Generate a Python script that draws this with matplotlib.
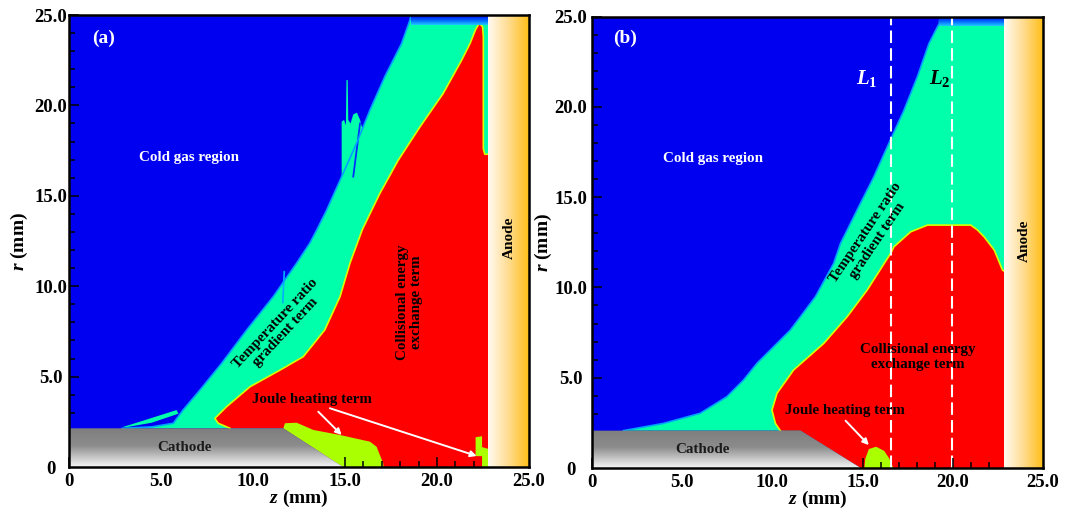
import numpy as np
import matplotlib.pyplot as plt
from matplotlib.patches import Polygon
from matplotlib.colors import LinearSegmentedColormap
from matplotlib.ticker import FixedLocator, MultipleLocator

plt.rcParams['font.family'] = ['Liberation Serif', 'DejaVu Serif']
plt.rcParams['font.weight'] = 'bold'
plt.rcParams['axes.labelweight'] = 'bold'
plt.rcParams['mathtext.fontset'] = 'custom'
plt.rcParams['mathtext.rm'] = 'Liberation Serif:bold'
plt.rcParams['mathtext.it'] = 'Liberation Serif:italic:bold'
plt.rcParams['mathtext.bf'] = 'Liberation Serif:bold'

# colores de las regiones
COLD = '#0000F0'
THERMAL = '#00FFAA'
COLLISION = '#FF0000'
JOULE = '#AAFF00'

tick_vals = [0, 5, 10, 15, 20, 25]
tick_text = ['0', '5.0', '10.0', '15.0', '20.0', '25.0']

# ------- panel (a) -------
a_cathode_z = [0, 0, 11.65, 14.9]
a_cathode_r = [0, 2.14, 2.14, 0]
a_anode_z = 22.8

# frontera region fria / termino de gradiente
a_thermal_z = [2.9, 4.5, 5.67, 6.2, 7.12, 8.3, 9.66, 11.1, 12.37, 13.1, 13.46,
               14.0, 14.82, 15.63, 16.36, 17.17, 18.08, 18.53, 18.6]
a_thermal_r = [2.14, 2.22, 2.42, 3.15, 4.26, 5.74, 7.58, 9.42, 11.27, 12.4, 13.1,
               14.2, 16.06, 17.9, 19.75, 21.6, 23.43, 24.72, 25.0]
a_sliver_z = [2.9, 4.3, 5.85, 5.95, 4.5, 3.1]
a_sliver_r = [2.2, 2.65, 3.15, 2.95, 2.45, 2.2]
a_spike_z = [14.82, 14.82, 14.95, 15.05, 15.08, 15.15, 15.18, 15.3, 15.45, 15.65,
             15.82, 15.95, 16.25, 15.63]
a_spike_r = [16.0, 19.1, 19.2, 18.9, 21.4, 21.4, 19.2, 19.0, 19.5, 19.6,
             19.2, 18.7, 19.45, 17.9]
a_streak_z = [15.82, 15.45]
a_streak_r = [19.0, 16.06]
a_streak2_z = [11.62, 11.7]
a_streak2_r = [9.1, 10.8]

# frontera del termino de intercambio colisional
a_coll_z = [8.75, 8.11, 7.93, 8.57, 9.84, 11.47, 12.73, 13.9, 14.73, 15.27,
            15.95, 16.9, 17.9, 19.08, 20.34, 21.34, 21.8, 22.1, 22.3, 22.48, 22.52,
            22.52, 22.6, 22.8]
a_coll_r = [2.14, 2.42, 2.69, 3.34, 4.44, 5.36, 6.1, 7.58, 9.42, 11.27,
            13.15, 15.14, 16.98, 18.82, 20.67, 22.5, 23.43, 24.2, 24.55, 24.35, 23.8,
            17.6, 17.3, 17.3]

# calentamiento Joule
a_joule_z = [11.65, 11.74, 12.37, 13.28, 14.73, 16.36, 16.72, 17.08, 17.1, 14.9]
a_joule_r = [2.14, 2.42, 2.45, 2.05, 1.77, 1.4, 1.12, 0.2, 0.0, 0.0]
a_joule2_z = [22.1, 22.1, 22.45, 22.45, 22.8, 22.8, 22.45, 22.45]
a_joule2_r = [0.6, 1.65, 1.7, 1.1, 1.0, 0.0, 0.0, 0.6]

a_band_z = [18.6, 22.8]
a_band_r = [24.45, 25.0]

# ------- panel (b) -------
b_cathode_z = [0, 0, 11.56, 14.9]
b_cathode_r = [0, 2.07, 2.07, 0]
b_anode_z = 22.85

b_thermal_z = [1.74, 3.96, 6.0, 7.48, 8.4, 9.15, 11.0, 12.39, 13.4, 13.78, 14.15,
               14.7, 15.63, 16.46, 17.3, 18.04, 18.68, 19.06, 19.25, 19.3]
b_thermal_r = [2.07, 2.47, 3.03, 3.95, 4.87, 5.8, 7.64, 9.49, 11.33, 12.44, 13.18,
               14.29, 16.13, 17.98, 19.82, 21.67, 23.5, 24.25, 24.6, 25.0]

b_coll_z = [10.44, 10.17, 9.98, 10.26, 11.18, 12.85, 14.15, 15.26, 16.56, 16.74,
            17.67, 18.6, 21.0, 21.37, 21.74, 22.3, 22.76, 22.85]
b_coll_r = [2.07, 2.47, 3.21, 4.14, 5.43, 6.9, 8.38, 9.86, 11.89, 12.25,
            13.08, 13.45, 13.45, 13.18, 12.8, 12.07, 10.96, 10.9]

b_joule_z = [15.1, 15.15, 15.35, 15.75, 16.2, 16.5, 16.7]
b_joule_r = [0.0, 0.5, 1.05, 1.18, 0.95, 0.5, 0.0]

b_band_z = [19.25, 22.85]
b_band_r = [24.45, 25.0]

# lineas L1 y L2
lines_z = [16.55, 19.95]

cathode_cmap = LinearSegmentedColormap.from_list(
    'cathode', [(0, '#F6F6F6'), (0.55, '#8C8C8C'), (1, '#7E7E7E')])
anode_cmap = LinearSegmentedColormap.from_list(
    'anode', [(0, '#FFFAF2'), (0.5, '#FFDC90'), (1, '#FFBE18')])
band_cmap = LinearSegmentedColormap.from_list('band', ['#20C8FF', '#0060FF', COLD])


def fill(ax, z, r, color, zorder=1):
    ax.add_patch(Polygon(np.column_stack([z, r]), closed=True, facecolor=color,
                         edgecolor='none', zorder=zorder))


def gradient(ax, extent, cmap, horizontal, clip_z=None, clip_r=None):
    g = np.linspace(0, 1, 256)
    img = g[None, :] if horizontal else g[::-1, None]
    im = ax.imshow(img, cmap=cmap, extent=extent, aspect='auto',
                   interpolation='bilinear', zorder=2)
    if clip_z is not None:
        clip = Polygon(np.column_stack([clip_z, clip_r]), closed=True,
                       facecolor='none', edgecolor='none', transform=ax.transData)
        ax.add_patch(clip)
        im.set_clip_path(clip)


def draw_panel(ax, thermal_z, thermal_r, coll_z, coll_r, cath_z, cath_r, anode_z,
               band_z, band_r):
    ax.set_facecolor(COLD)
    tip = (cath_z[3], 0)
    corner = (cath_z[2], cath_r[2])
    # termino de gradiente (cerrado contra anodo y catodo)
    tz = list(thermal_z) + [anode_z, anode_z, tip[0], corner[0]]
    tr = list(thermal_r) + [25, 0, tip[1], corner[1]]
    fill(ax, tz, tr, THERMAL, zorder=1)
    ax.plot(thermal_z, thermal_r, color='#00A0FF', lw=1.2, zorder=1.05)
    # termino colisional
    cz = list(coll_z) + [anode_z, tip[0], corner[0]]
    cr = list(coll_r) + [0, tip[1], corner[1]]
    fill(ax, cz, cr, COLLISION, zorder=1.1)
    ax.plot(coll_z, coll_r, color='#D8FF00', lw=1.2, zorder=1.12)
    # banda superior
    ax.imshow(np.linspace(0, 1, 64)[:, None], cmap=band_cmap, origin='lower',
              extent=(band_z[0], band_z[1], band_r[0], band_r[1]), aspect='auto',
              interpolation='bilinear', zorder=1.3)
    # catodo y anodo
    gradient(ax, (0, cath_z[3], 0, cath_r[1]), cathode_cmap, False, cath_z, cath_r)
    gradient(ax, (anode_z, 25, 0, 25), anode_cmap, True)

    ax.set_xlim(0, 25)
    ax.set_ylim(0, 25)
    for axis in (ax.xaxis, ax.yaxis):
        axis.set_major_locator(FixedLocator(tick_vals))
        axis.set_minor_locator(MultipleLocator(1))
    ax.set_xticklabels(tick_text)
    ax.set_yticklabels(tick_text)
    ax.tick_params(which='both', direction='in', color='black', width=1.1,
                   top=False, right=False, labelsize=13.5)
    ax.tick_params(which='major', length=7.5)
    ax.tick_params(which='minor', length=4)
    ax.tick_params(axis='x', pad=4)
    for lbl in ax.get_yticklabels():
        lbl.set_ha('center')
    for s in ax.spines.values():
        s.set_linewidth(1.8)
    ax.set_xlabel('$z$ (mm)', fontsize=14, fontweight='bold')
    ax.set_ylabel('$r$ (mm)', fontsize=14, fontweight='bold')
    ax.xaxis.set_label_coords(0.5, -0.046)
    ax.yaxis.set_label_coords(-0.085, 0.5)


fig = plt.figure(figsize=(10.71, 5.11), dpi=100)
ax_a = fig.add_axes([0.0644, 0.0861, 0.4295, 0.8845])
ax_b = fig.add_axes([0.5527, 0.0841, 0.4211, 0.8836])

# ---- panel (a) ----
draw_panel(ax_a, a_thermal_z, a_thermal_r, a_coll_z, a_coll_r, a_cathode_z, a_cathode_r,
           a_anode_z, a_band_z, a_band_r)
fill(ax_a, a_sliver_z, a_sliver_r, THERMAL, zorder=1.02)
fill(ax_a, a_spike_z, a_spike_r, THERMAL, zorder=1.02)
ax_a.plot(a_streak_z, a_streak_r, color='#0030FF', lw=1.3, zorder=1.03)
ax_a.plot(a_streak2_z, a_streak2_r, color='#00B0FF', lw=1.2, zorder=1.03)
fill(ax_a, a_joule_z, a_joule_r, JOULE, zorder=1.2)
fill(ax_a, a_joule2_z, a_joule2_r, JOULE, zorder=1.2)
ax_a.tick_params(axis='y', pad=13)

ax_a.text(1.9, 23.7, '(a)', color='white', fontsize=14, ha='center', va='center', zorder=3)
ax_a.text(6.5, 17.1, 'Cold gas region', color='white', fontsize=10.8,
          ha='center', va='center', zorder=3)
ax_a.text(11.5, 7.7, 'Temperature ratio\ngradient term', color='black', fontsize=10.8,
          ha='center', va='center', rotation=47, linespacing=1.1, zorder=3)
ax_a.text(18.48, 9.14, 'Collisional energy\nexchange term', color='black', fontsize=10.8,
          ha='center', va='center', rotation=90, linespacing=1.1, zorder=3)
ax_a.text(13.19, 3.74, 'Joule heating term', color='black', fontsize=10.8,
          ha='center', va='center', zorder=3)
ax_a.text(6.28, 1.09, 'Cathode', color='#1A1A1A', fontsize=10.8,
          ha='center', va='center', zorder=3)
ax_a.text(23.95, 12.7, 'Anode', color='black', fontsize=11,
          ha='center', va='center', rotation=90, zorder=3)
arrow = dict(arrowstyle='-|>', color='white', lw=1.4, mutation_scale=9,
             shrinkA=0, shrinkB=0)
ax_a.annotate('', xy=(14.82, 1.77), xytext=(13.55, 3.06), arrowprops=arrow, zorder=3)
ax_a.annotate('', xy=(22.16, 0.61), xytext=(14.18, 3.25), arrowprops=arrow, zorder=3)

# ---- panel (b) ----
draw_panel(ax_b, b_thermal_z, b_thermal_r, b_coll_z, b_coll_r, b_cathode_z, b_cathode_r,
           b_anode_z, b_band_z, b_band_r)
fill(ax_b, b_joule_z, b_joule_r, JOULE, zorder=1.2)
ax_b.tick_params(axis='y', pad=15)
for z in lines_z:
    ax_b.axvline(z, color='white', lw=1.5, linestyle=(0, (6, 2.5)), zorder=1.4)

ax_b.text(1.83, 23.8, '(b)', color='white', fontsize=14, ha='center', va='center', zorder=3)
ax_b.text(6.7, 17.15, 'Cold gas region', color='white', fontsize=10.8,
          ha='center', va='center', zorder=3)
ax_b.text(15.5, 12.8, 'Temperature ratio\ngradient term', color='black', fontsize=10.8,
          ha='center', va='center', rotation=56, linespacing=1.1, zorder=3)
ax_b.text(18.04, 6.16, 'Collisional energy\nexchange term', color='black', fontsize=10.8,
          ha='center', va='center', linespacing=1.2, zorder=3)
ax_b.text(14.02, 3.16, 'Joule heating term', color='black', fontsize=10.8,
          ha='center', va='center', zorder=3)
ax_b.text(6.15, 1.0, 'Cathode', color='#1A1A1A', fontsize=10.8,
          ha='center', va='center', zorder=3)
ax_b.text(23.99, 12.6, 'Anode', color='black', fontsize=11,
          ha='center', va='center', rotation=90, zorder=3)
ax_b.text(15.26, 21.58, '$L_1$', color='white', fontsize=15, ha='center', va='center', zorder=3)
ax_b.text(19.26, 21.58, '$L_2$', color='black', fontsize=15, ha='center', va='center', zorder=3)
ax_b.annotate('', xy=(15.35, 1.27), xytext=(14.06, 2.62), arrowprops=arrow, zorder=3)

plt.savefig('out.png', dpi=100)
